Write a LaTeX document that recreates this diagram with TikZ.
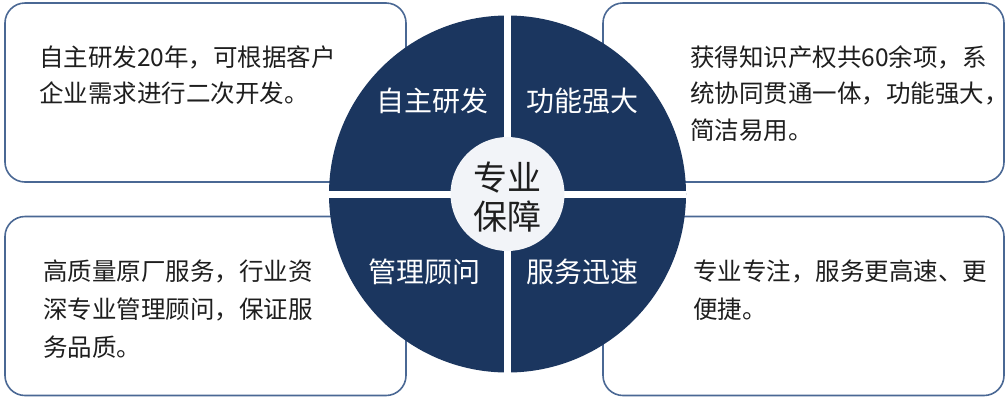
\documentclass[tikz,border=0pt]{standalone}
\usepackage{fontspec}
\setmainfont{Noto Sans CJK SC}
\definecolor{navy}{HTML}{1B365F}
\definecolor{boxline}{HTML}{4A6894}
\definecolor{hub}{HTML}{F2F4F8}
\definecolor{ink}{HTML}{1E1E1E}
\begin{document}
\begin{tikzpicture}[x=1pt,y=-1pt,
  infobox/.style={draw=boxline, line width=1.6pt, rounded corners=20pt, fill=white,
    minimum width=401pt, minimum height=179pt, inner sep=0pt},
  bodytext/.style={anchor=base west, inner sep=0pt, text=ink, font=\fontsize{24.5}{30}\selectfont},
  quadlabel/.style={inner sep=0pt, text=white, font=\fontsize{28}{32}\selectfont},
  gapline/.style={draw=white, line width=7pt}]
\fill[white] (0,0) rectangle (1008,400);
\useasboundingbox (0,0) rectangle (1008,400);
% boxes
\node[infobox] (tl) at (205.5,92.5) {};
\node[infobox] (bl) at (205.5,306) {};
\node[infobox] (tr) at (803.5,92.5) {};
\node[infobox] (br) at (803.5,306) {};
% box texts
\node[bodytext] (tl1) at (39,66) {自主研发20年，可根据客户};
\node[bodytext] (tl2) at (39,102.5) {企业需求进行二次开发。};
\node[bodytext] (tr1) at (690,66) {获得知识产权共60余项，系};
\node[bodytext] (tr2) at (690,102.5) {统协同贯通一体，功能强大，};
\node[bodytext] (tr3) at (690,139) {简洁易用。};
\node[bodytext] (bl1) at (43,280) {高质量原厂服务，行业资};
\node[bodytext] (bl2) at (43,318) {深专业管理顾问，保证服};
\node[bodytext] (bl3) at (43,356) {务品质。};
\node[bodytext] (br1) at (693,280) {专业专注，服务更高速、更};
\node[bodytext] (br2) at (693,318) {便捷。};
% central disc
\node[circle, fill=navy, minimum size=357pt, inner sep=0pt] (disc) at (507.5,194) {};
\draw[gapline] (disc.north) -- (disc.south);
\draw[gapline] (disc.west) -- (disc.east);
\node[circle, fill=hub, minimum size=114pt, inner sep=0pt] (hubc) at (507.5,194) {};
\node[align=center, inner sep=0pt, text=ink, font=\fontsize{34}{39}\selectfont] (hubtext) at (507.5,197) {专业\\保障};
% quadrant labels
\node[quadlabel] (q1) at (432.5,101) {自主研发};
\node[quadlabel] (q2) at (582,101) {功能强大};
\node[quadlabel] (q3) at (424,272) {管理顾问};
\node[quadlabel] (q4) at (582.5,272) {服务迅速};
\end{tikzpicture}
\end{document}
